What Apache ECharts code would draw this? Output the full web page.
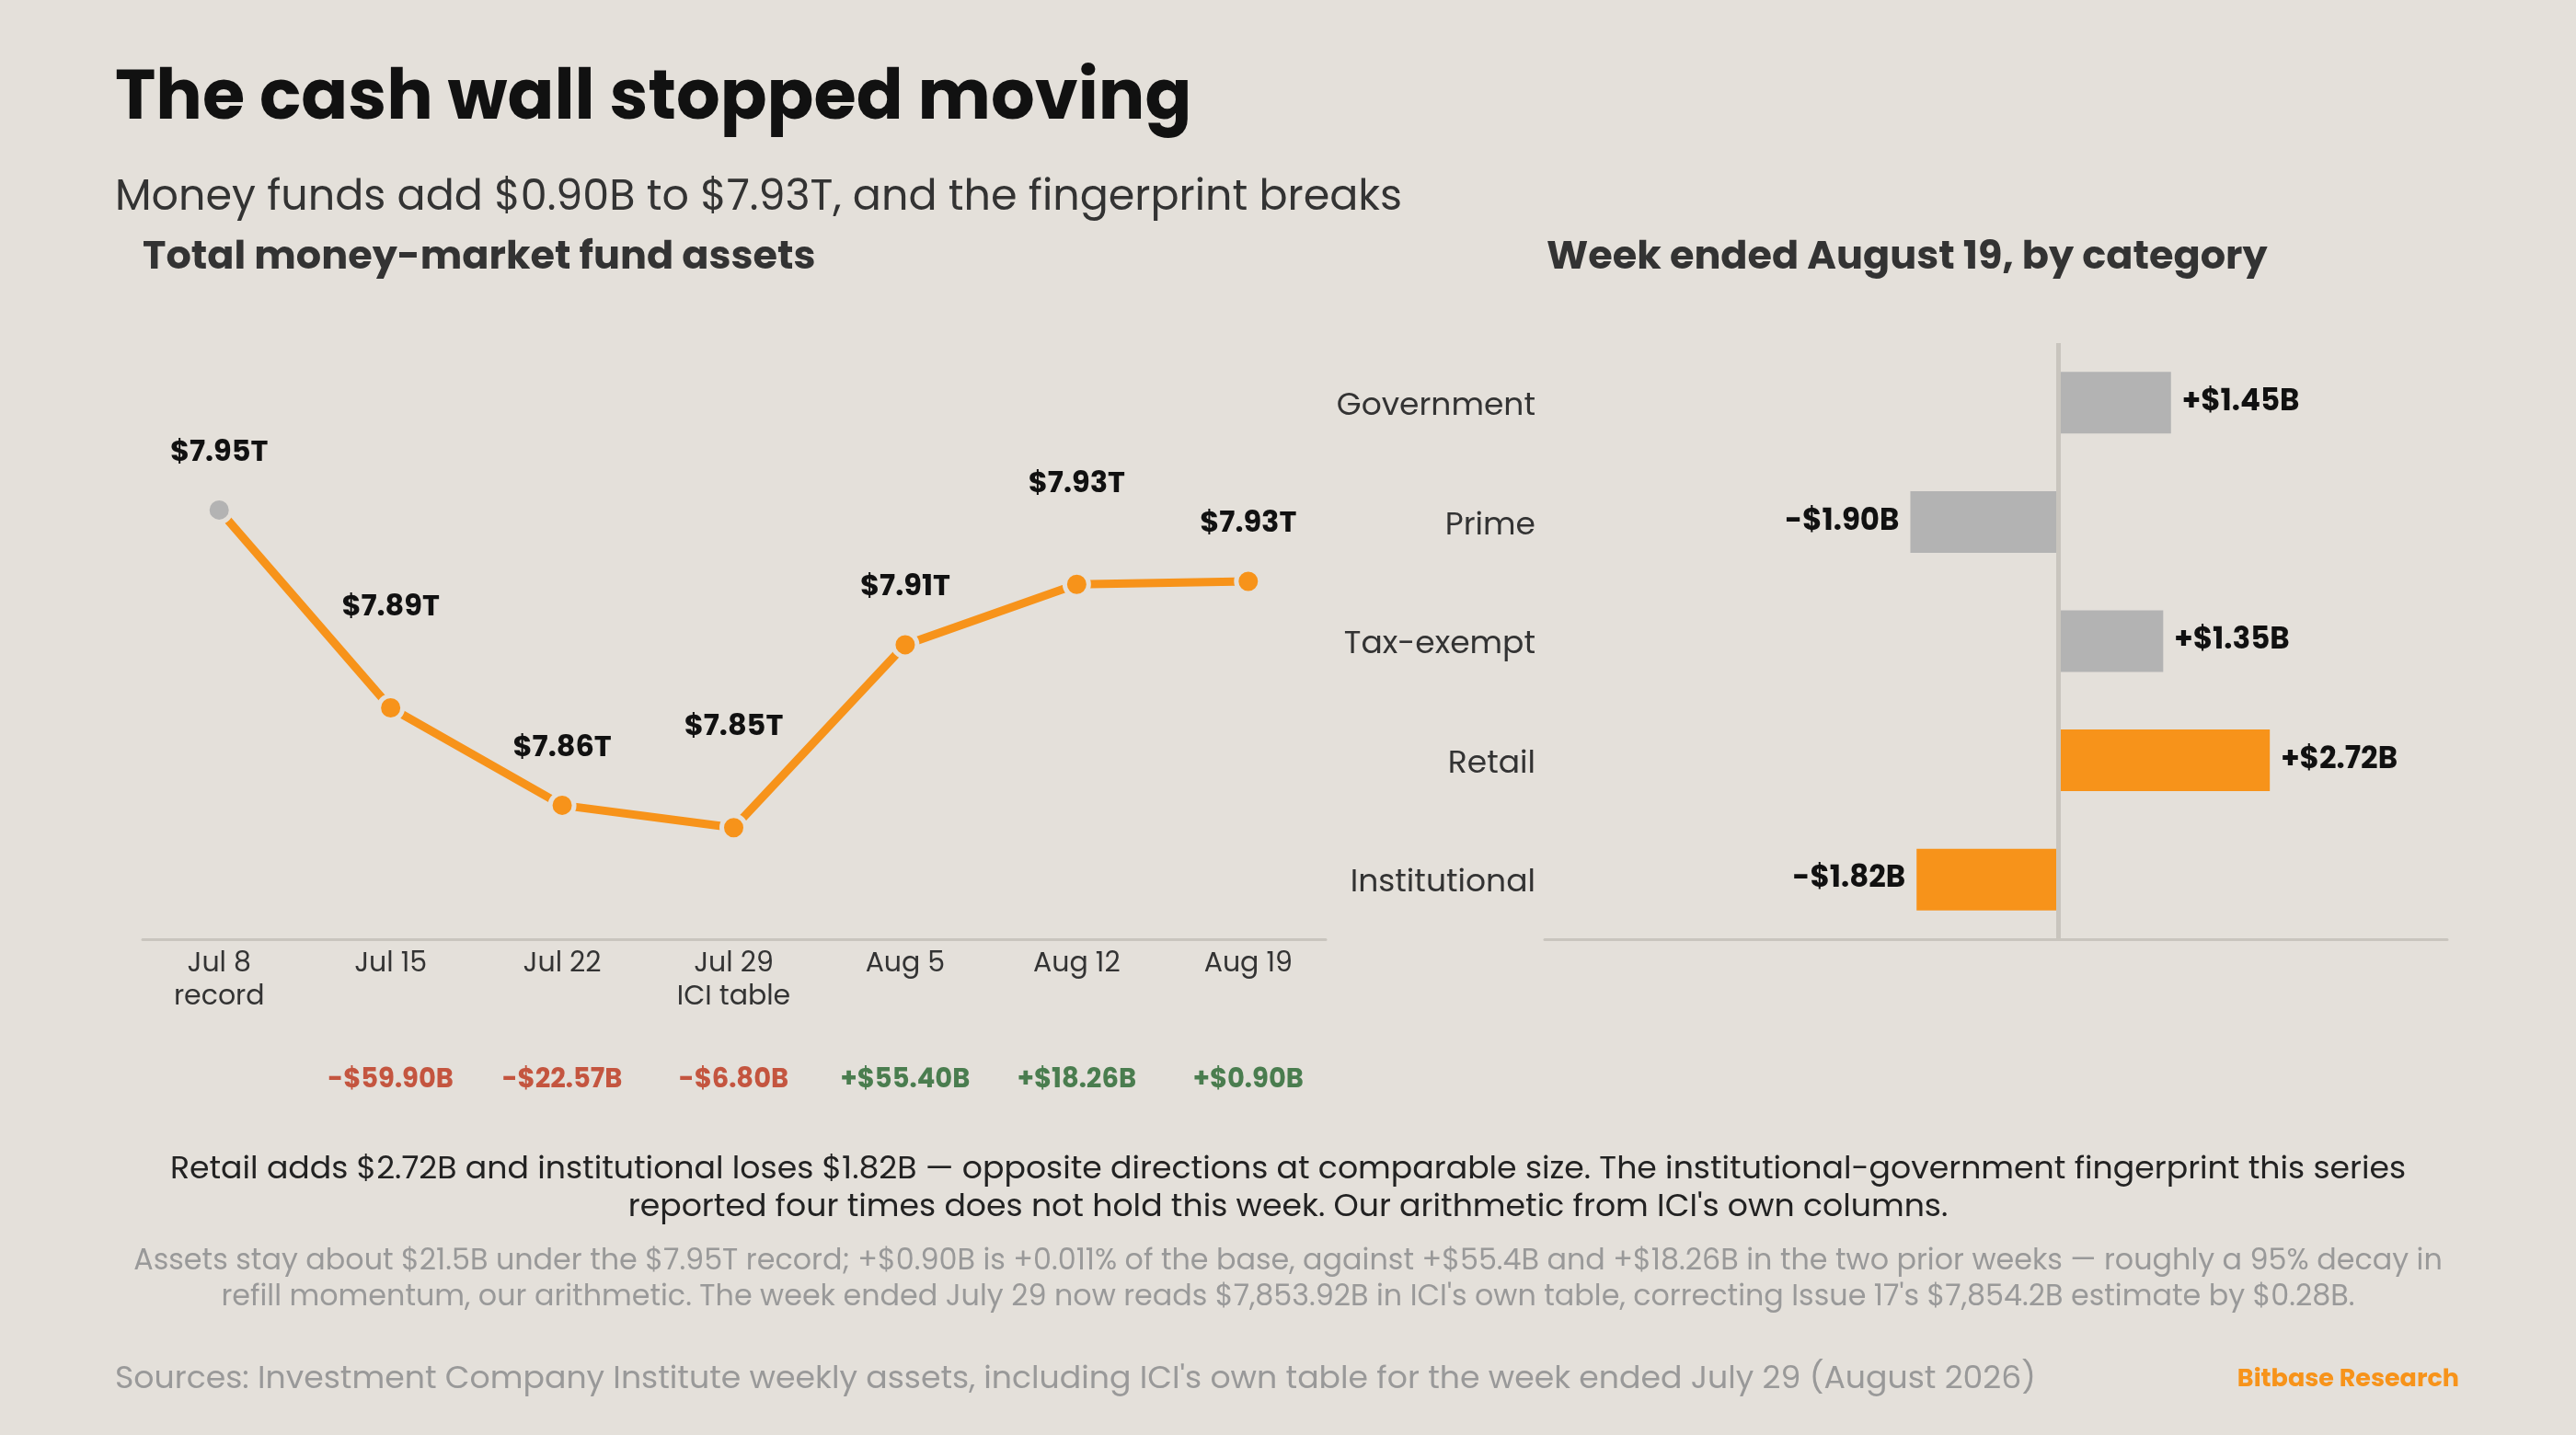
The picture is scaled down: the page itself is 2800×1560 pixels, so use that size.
<!DOCTYPE html>
<html>
<head>
<meta charset="utf-8">
<script src="https://cdn.jsdelivr.net/npm/echarts@6/dist/echarts.min.js"></script>
<style>
  html, body { margin: 0; padding: 0; background: #e4e0da; }
  #main { width: 2800px; height: 1560px; }
</style>
</head>
<body>
<div id="main"></div>
<script>
// weekly totals, trillions of dollars
var weeks = ['Jul 8\nrecord', 'Jul 15', 'Jul 22', 'Jul 29\nICI table', 'Aug 5', 'Aug 12', 'Aug 19'];
var assetsT = [7.9501, 7.8902, 7.8607, 7.8539, 7.9093, 7.9276, 7.9285];
var weeklyChangeB = [null, -59.90, -22.57, -6.80, 55.40, 18.26, 0.90];

// week ended Aug 19, billions of dollars
var categories = ['Government', 'Prime', 'Tax-exempt', 'Retail', 'Institutional'];
var categoryChangeB = [1.45, -1.90, 1.35, 2.72, -1.82];
var highlighted = ['Retail', 'Institutional'];

var FONT = "Poppins, Inter, 'Noto Sans', sans-serif";
var ORANGE = '#f7931a';
var GREY = '#b3b3b3';
var BG = '#e4e0da';
var RULE = '#c9c5be';

function fmtB(v) {
    return (v < 0 ? '-' : '+') + '$' + Math.abs(v).toFixed(2) + 'B';
}

var myChart = echarts.init(document.getElementById('main'));

var lineData = assetsT.map(function (v, i) {
    var item = {
        value: v,
        // labels alternate between a near and a far position
        label: { distance: i % 2 === 0 ? 30 : 77 }
    };
    if (i === 0) {
        item.itemStyle = { color: GREY };
    }
    return item;
});

var barData = categoryChangeB.map(function (v, i) {
    return {
        value: v,
        itemStyle: { color: highlighted.indexOf(categories[i]) >= 0 ? ORANGE : GREY },
        label: { position: v < 0 ? 'left' : 'right' }
    };
});

var option = {
    backgroundColor: BG,
    animation: false,
    textStyle: { fontFamily: FONT },
    graphic: [
        { type: 'text', left: 125, top: 73, style: { text: 'The cash wall stopped moving', font: 'bold 75px ' + FONT, fill: '#111' } },
        { type: 'text', left: 125, top: 193, style: { text: 'Money funds add $0.90B to $7.93T, and the fingerprint breaks', font: '46px ' + FONT, fill: '#333' } },
        { type: 'text', left: 155, top: 260, style: { text: 'Total money-market fund assets', font: 'bold 43px ' + FONT, fill: '#333' } },
        { type: 'text', left: 1681, top: 260, style: { text: 'Week ended August 19, by category', font: 'bold 43px ' + FONT, fill: '#333' } },
        {
            type: 'text', x: 1400, y: 1252,
            style: {
                text: 'Retail adds $2.72B and institutional loses $1.82B \u2014 opposite directions at comparable size. The institutional-government fingerprint this series\nreported four times does not hold this week. Our arithmetic from ICI\'s own columns.',
                font: '34.7px ' + FONT, fill: '#222', align: 'center', verticalAlign: 'top', lineHeight: 41
            }
        },
        {
            type: 'text', x: 1400, y: 1353,
            style: {
                text: 'Assets stay about $21.5B under the $7.95T record; +$0.90B is +0.011% of the base, against +$55.4B and +$18.26B in the two prior weeks \u2014 roughly a 95% decay in\nrefill momentum, our arithmetic. The week ended July 29 now reads $7,853.92B in ICI\'s own table, correcting Issue 17\'s $7,854.2B estimate by $0.28B.',
                font: '31.8px ' + FONT, fill: '#999', align: 'center', verticalAlign: 'top', lineHeight: 39
            }
        },
        { type: 'text', left: 125, top: 1483, style: { text: 'Sources: Investment Company Institute weekly assets, including ICI\'s own table for the week ended July 29 (August 2026)', font: '34.7px ' + FONT, fill: '#999' } },
        { type: 'text', right: 127, top: 1487, style: { text: 'Bitbase Research', font: 'bold 27px ' + FONT, fill: ORANGE } }
    ],
    grid: [
        { left: 145, top: 483, width: 1305, height: 538.5 },
        { left: 1679, top: 373, width: 981, height: 648 },
        { left: 155, top: 483, width: 1286, height: 538.5 }
    ],
    xAxis: [
        {
            type: 'category', gridIndex: 0, data: weeks, boundaryGap: true,
            axisLine: { show: false },
            axisTick: { show: false },
            axisLabel: { color: '#333', fontSize: 30, lineHeight: 36, margin: 9, fontFamily: FONT }
        },
        {
            type: 'category', gridIndex: 0, data: weeklyChangeB.map(function (v) { return v === null ? '' : fmtB(v); }),
            position: 'bottom', offset: 135,
            axisLine: { show: false }, axisTick: { show: false },
            axisLabel: {
                margin: 0, lineHeight: 36,
                formatter: function (s) {
                    if (!s) return '';
                    return (s.charAt(0) === '-' ? '{neg|' : '{pos|') + s + '}';
                },
                rich: {
                    neg: { color: '#c4553f', fontSize: 29, fontWeight: 'bold', fontFamily: FONT },
                    pos: { color: '#4a7d4f', fontSize: 29, fontWeight: 'bold', fontFamily: FONT }
                }
            }
        },
        {
            type: 'value', gridIndex: 1, min: -6.6, max: 5,
            axisLine: { show: true, onZero: false, lineStyle: { color: RULE, width: 3 } },
            axisTick: { show: false }, axisLabel: { show: false }, splitLine: { show: false }
        },
        {
            // baseline rule under the line chart
            type: 'value', gridIndex: 2, min: 0, max: 1,
            axisLine: { show: true, onZero: false, lineStyle: { color: RULE, width: 3 } },
            axisTick: { show: false }, axisLabel: { show: false }, splitLine: { show: false }
        }
    ],
    yAxis: [
        {
            type: 'value', gridIndex: 0, min: 7.82, max: 7.97,
            axisLine: { show: false }, axisTick: { show: false }, axisLabel: { show: false }, splitLine: { show: false }
        },
        {
            type: 'category', gridIndex: 1, data: categories, inverse: true,
            axisLine: { show: false }, axisTick: { show: false }, splitLine: { show: false },
            axisLabel: {
                margin: 10,
                formatter: function (s) { return '{c|' + s + '}'; },
                rich: { c: { color: '#333', fontSize: 34.5, fontFamily: FONT, padding: [9, 0, 0, 0] } }
            }
        },
        {
            type: 'value', gridIndex: 2, show: false, min: 0, max: 1
        }
    ],
    series: [
        {
            type: 'line', xAxisIndex: 0, yAxisIndex: 0, data: lineData,
            lineStyle: { color: ORANGE, width: 9 },
            symbol: 'circle', symbolSize: 26,
            itemStyle: { color: ORANGE, borderColor: BG, borderWidth: 5 },
            label: {
                show: true, position: 'top', color: '#111', fontSize: 32, fontWeight: 'bold', fontFamily: FONT,
                formatter: function (p) { return '$' + p.value.toFixed(2) + 'T'; }
            }
        },
        {
            type: 'bar', xAxisIndex: 2, yAxisIndex: 1, data: barData, barWidth: 67,
            label: {
                show: true, distance: 12, color: '#111', fontSize: 32.5, fontWeight: 'bold', fontFamily: FONT,
                formatter: function (p) { return fmtB(p.value); }
            },
            markLine: {
                silent: true, symbol: 'none', label: { show: false },
                lineStyle: { color: RULE, width: 5, type: 'solid' },
                data: [{ xAxis: 0 }]
            }
        }
    ]
};

myChart.setOption(option);
</script>
</body>
</html>
